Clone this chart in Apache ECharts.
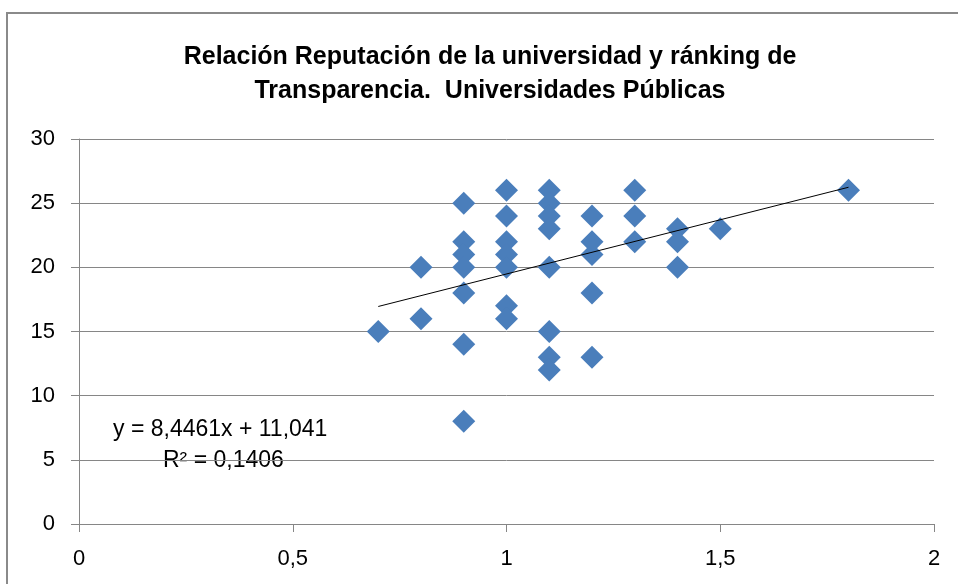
<!DOCTYPE html>
<html>
<head>
<meta charset="utf-8">
<script src="https://cdn.jsdelivr.net/npm/echarts@6/dist/echarts.min.js"></script>
<style>
  html, body { margin: 0; padding: 0; background: #fff; }
  #chart { width: 958px; height: 584px; }
</style>
</head>
<body>
<div id="chart"></div>
<script>
// reputación (x) y ránking de transparencia (y)
const xValues = [
  0.7,
  0.8, 0.8,
  0.9, 0.9, 0.9, 0.9, 0.9, 0.9, 0.9,
  1.0, 1.0, 1.0, 1.0, 1.0, 1.0, 1.0,
  1.1, 1.1, 1.1, 1.1, 1.1, 1.1, 1.1, 1.1,
  1.2, 1.2, 1.2, 1.2, 1.2,
  1.3, 1.3, 1.3,
  1.4, 1.4, 1.4,
  1.5,
  1.8
]
const yValues = [
  15,
  20, 16,
  25, 22, 21, 20, 18, 14, 8,
  26, 24, 22, 21, 20, 17, 16,
  26, 25, 24, 23, 20, 15, 13, 12,
  24, 22, 21, 18, 13,
  26, 24, 22,
  23, 22, 20,
  23,
  26
]
// línea de tendencia (extremos)
const trendX = [0.7, 1.8]
const trendY = [16.95, 26.24]

const titleLines = ['Relación Reputación de la universidad y ránking de', 'Transparencia.  Universidades Públicas']
const eqText = 'y = 8,4461x + 11,041'
const r2Text = 'R² = 0,1406'

const font = '"Liberation Sans", Arial, sans-serif'
const fmt = (v) => String(v).replace('.', ',')

const chart = echarts.init(document.getElementById('chart'))

chart.setOption({
  animation: false,
  title: {
    text: titleLines.join('\n'),
    left: 485,
    top: 35,
    textAlign: 'center',
    textStyle: {
      fontFamily: font,
      fontWeight: 'bold',
      fontSize: 25,
      lineHeight: 34,
      color: '#000'
    }
  },
  grid: { left: 79, right: 24, top: 139, bottom: 60 },
  xAxis: {
    type: 'value',
    min: 0,
    max: 2,
    interval: 0.5,
    axisLine: { show: true, lineStyle: { color: '#868686' } },
    axisTick: { show: true, length: 8, lineStyle: { color: '#868686' } },
    splitLine: { show: false },
    axisLabel: { formatter: fmt, fontFamily: font, fontSize: 22, color: '#000', margin: 24 }
  },
  yAxis: {
    type: 'value',
    min: 0,
    max: 30,
    interval: 5,
    axisLine: { show: true, lineStyle: { color: '#868686' } },
    axisTick: { show: true, length: 8, lineStyle: { color: '#868686' } },
    splitLine: { lineStyle: { color: '#868686' } },
    axisLabel: { formatter: fmt, fontFamily: font, fontSize: 22, color: '#000', margin: 24 }
  },
  series: [
    {
      type: 'scatter',
      symbol: 'diamond',
      symbolSize: 23,
      itemStyle: { color: '#4a7ebb', opacity: 1 },
      data: xValues.map((x, i) => [x, yValues[i]]),
      z: 2
    },
    {
      type: 'line',
      symbol: 'none',
      lineStyle: { color: '#000', width: 1 },
      data: trendX.map((x, i) => [x, trendY[i]]),
      z: 3
    }
  ],
  graphic: [
    {
      type: 'rect',
      shape: { x: 7, y: 13, width: 1000, height: 700 },
      style: { fill: null, stroke: '#8a8a8a', lineWidth: 2 },
      silent: true
    },
    {
      type: 'text',
      x: 113,
      y: 430,
      style: { text: eqText, font: '23px ' + font, fill: '#000', verticalAlign: 'middle' }
    },
    {
      type: 'text',
      x: 163,
      y: 461,
      style: { text: r2Text, font: '23px ' + font, fill: '#000', verticalAlign: 'middle' }
    }
  ]
})
</script>
</body>
</html>
